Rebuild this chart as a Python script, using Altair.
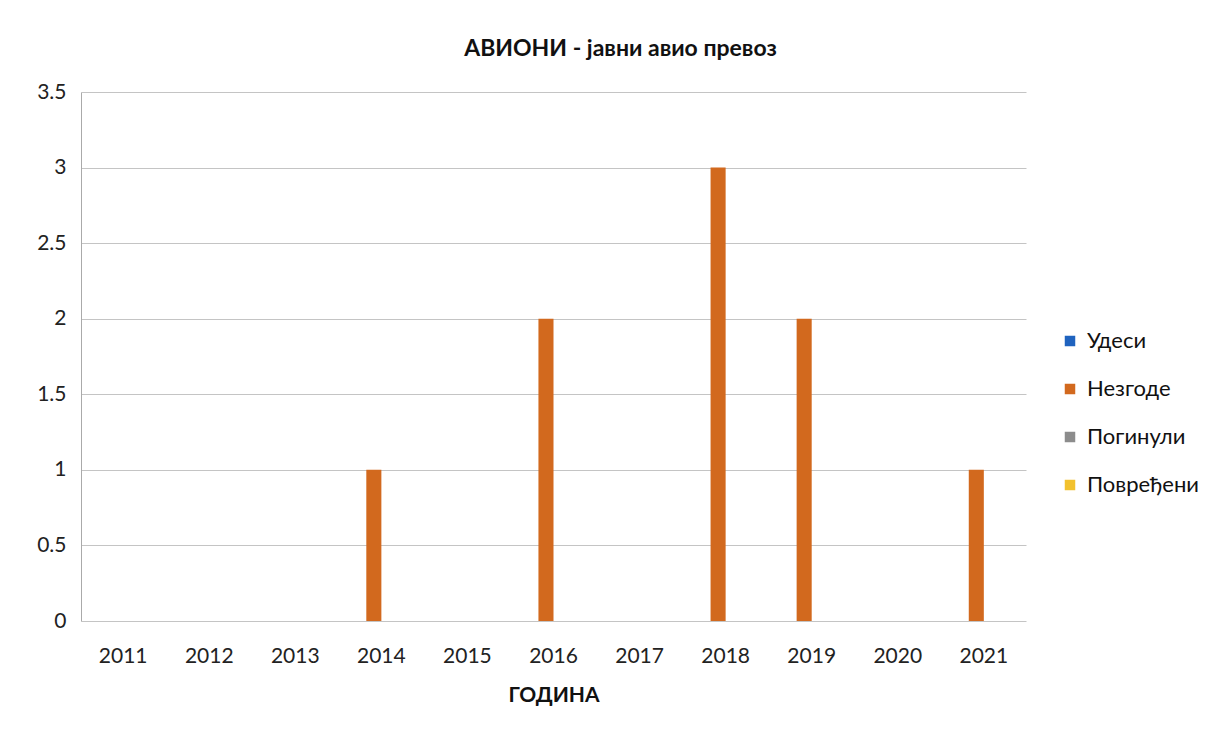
import altair as alt
import pandas as pd

years = ["2011", "2012", "2013", "2014", "2015", "2016", "2017", "2018", "2019", "2020", "2021"]
series = ["Удеси", "Незгоде", "Погинули", "Повређени"]
udesi = [0, 0, 0, 0, 0, 0, 0, 0, 0, 0, 0]
nezgode = [0, 0, 0, 1, 0, 2, 0, 3, 2, 0, 1]
poginuli = [0, 0, 0, 0, 0, 0, 0, 0, 0, 0, 0]
povredjeni = [0, 0, 0, 0, 0, 0, 0, 0, 0, 0, 0]
colors = ["#1F63BF", "#D2691E", "#8C8C8C", "#F2C12E"]

rows = []
for s, vals in zip(series, [udesi, nezgode, poginuli, povredjeni]):
    for y, v in zip(years, vals):
        rows.append({"year": y, "series": s, "value": v})
df = pd.DataFrame(rows)

FONT = "Lato"

chart = alt.Chart(df).mark_bar().encode(
    x=alt.X("year:N", sort=years,
            scale=alt.Scale(paddingInner=0.3, paddingOuter=0.14),
            axis=alt.Axis(title="ГОДИНА", labelAngle=0, ticks=False, domain=False,
                          labelFontSize=21, labelColor="#222222", labelPadding=24,
                          titleFontSize=21, titleFontWeight="bold", titleColor="#111111",
                          titlePadding=18, labelFont=FONT, titleFont=FONT)),
    xOffset=alt.XOffset("series:N", sort=series),
    y=alt.Y("value:Q", scale=alt.Scale(domain=[0, 3.5]),
            axis=alt.Axis(title=None, values=[0, 0.5, 1, 1.5, 2, 2.5, 3, 3.5], format="~g",
                          ticks=False, domain=True, domainColor="#AAAAAA",
                          gridColor="#C4C4C4", labelFontSize=21, labelColor="#222222",
                          labelPadding=15, labelFont=FONT)),
    color=alt.Color("series:N", sort=series,
                    scale=alt.Scale(domain=series, range=colors),
                    legend=alt.Legend(title=None, orient="none", legendX=978, legendY=238,
                                      symbolType="square", symbolSize=110,
                                      labelFontSize=22, labelFont=FONT, labelColor="#111111",
                                      rowPadding=26, labelOffset=6)),
).properties(
    width=945,
    height=529,
    title=alt.TitleParams("АВИОНИ - јавни авио превоз", fontSize=23, fontWeight="bold",
                          font=FONT, color="#111111", offset=20, dx=67),
    padding={"left": 28, "top": 30, "right": 20, "bottom": 20},
).configure_view(stroke=None)

chart.save("out.html", embed_options={"renderer": "svg", "actions": False})
